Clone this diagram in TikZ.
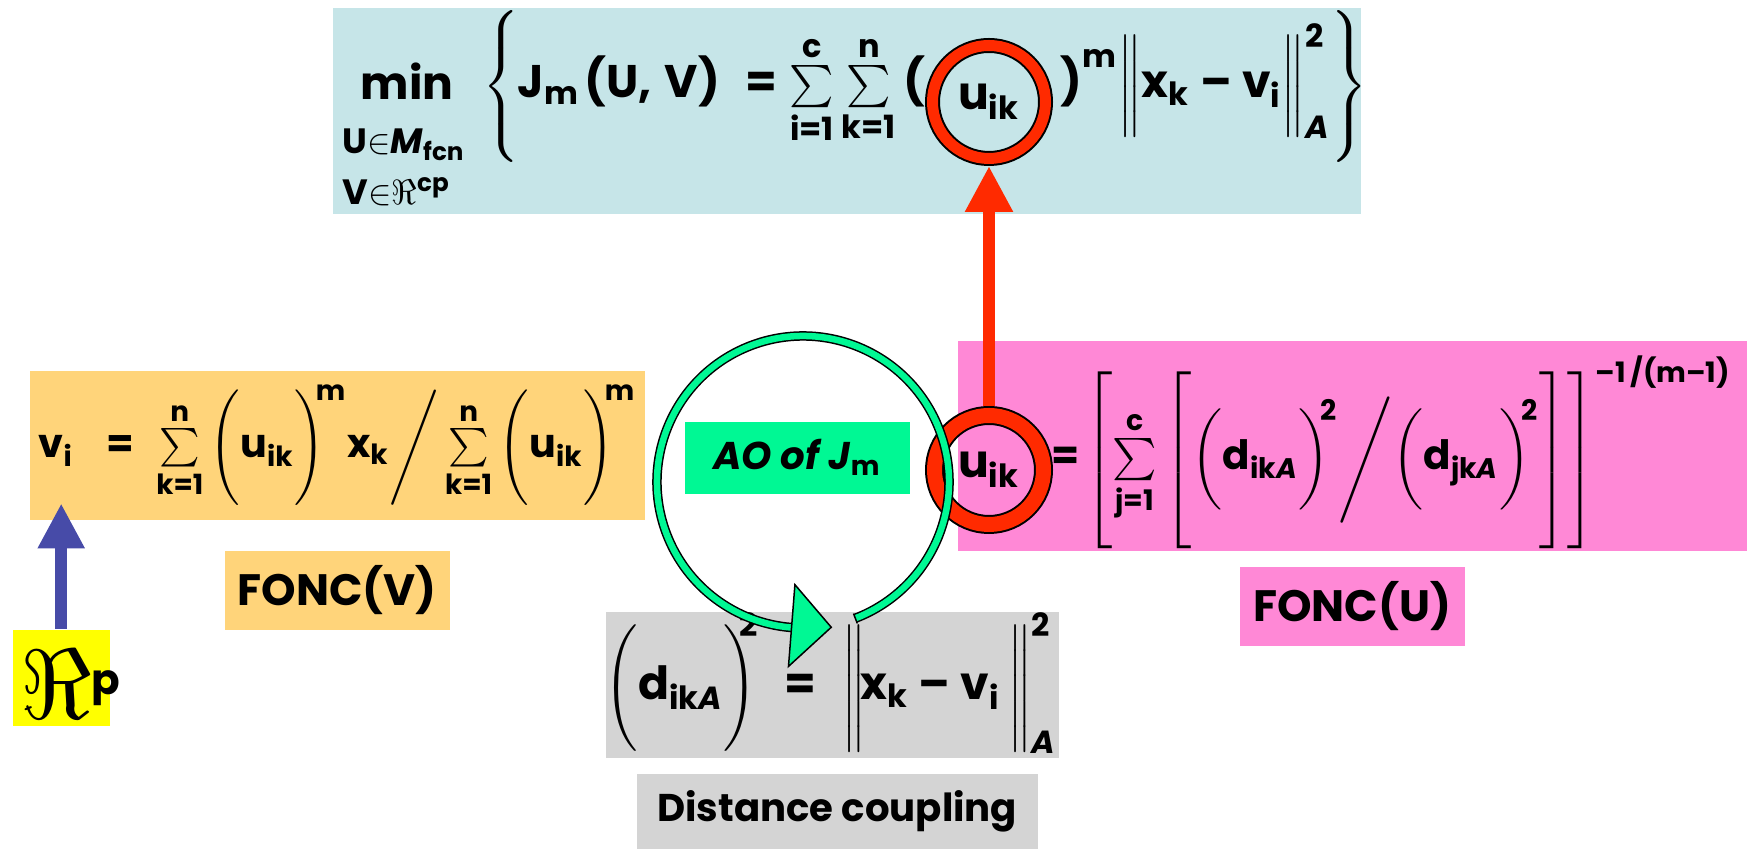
\RequirePackage{fix-cm}
\documentclass[tikz,border=0pt]{standalone}
\usepackage{amsmath}
\usepackage{fontspec}
\setmainfont{Poppins}
\definecolor{fcmBlue}{HTML}{C6E5E8}
\definecolor{fcmOrange}{HTML}{FFD47A}
\definecolor{fcmPink}{HTML}{FF88D6}
\definecolor{fcmGray}{HTML}{D4D4D4}
\definecolor{fcmYellow}{HTML}{FFFF00}
\definecolor{fcmGreen}{HTML}{00F894}
\definecolor{fcmRed}{HTML}{FF2A00}
\definecolor{fcmNavy}{HTML}{474BA8}
\usetikzlibrary{arrows.meta, positioning, calc}
\newcommand{\tb}[1]{\textbf{#1}}
\newcommand{\ti}[1]{\textbf{\itshape #1}}
\newcommand{\eqs}{\mathrel{\tb{=}}}
\newcommand{\mn}{\mathbin{\tb{\textendash}}}
\newcommand{\rpar}{{\bigg)\mkern-4mu}}
\newcommand{\fs}[1]{\fontsize{#1}{#1}\selectfont}
\newcommand{\tall}[2]{\vrule height #1 depth #2 width 0pt}
\delimiterfactor=1000
\delimitershortfall=0pt
\nulldelimiterspace=0pt

\begin{document}
\begin{tikzpicture}[
    x=0.1mm, y=-0.1mm,
    panel/.style={fill=#1, inner sep=0pt, anchor=north west},
    eq/.style={inner sep=0pt, font=\fs{#1}\bfseries},
    eq/.default=13,
    tag/.style={font=\fs{#1}\bfseries},
    ring/.style={circle, draw=black, double=fcmRed, line width=0.2mm, inner sep=0pt},
    redArr/.style={-{Triangle[length=4.6mm, width=4.5mm]}, fcmRed, line width=1.2mm},
    navyArr/.style={-{Triangle[length=4.5mm, width=4.4mm]}, fcmNavy, line width=1.2mm},
    loopLine/.style={draw=black, double=fcmGreen, line width=0.15mm, double distance=0.65mm},
  ]
  \useasboundingbox (0,0) rectangle (1747,849);

  % coloured panels
  \node[panel=fcmBlue, minimum width=102.8mm, minimum height=20.6mm] (topBox) at (332,7) {};
  \node[panel=fcmOrange, minimum width=61.5mm, minimum height=14.9mm] (vBox) at (29,370) {};
  \node[panel=fcmPink, minimum width=79mm, minimum height=21mm] (uBox) at (957,340) {};
  \node[panel=fcmGray, minimum width=45.3mm, minimum height=14.6mm] (dBox) at (605,611) {};
  \node[panel=fcmYellow, minimum width=9.7mm, minimum height=9.6mm] (rBox) at (12,629) {};

  % labels
  \node[panel=fcmOrange, minimum width=22.5mm, minimum height=7.9mm, tag=12.5] (foncV) at (224,550) {FONC(V)};
  \node[panel=fcmPink, minimum width=22.5mm, minimum height=7.9mm, tag=12.5] (foncU) at (1239,566) {FONC(U)};
  \node[panel=fcmGray, minimum width=40.1mm, minimum height=7.6mm, tag=11] (distLbl) at (636,773) {Distance coupling};
  \node[panel=fcmGreen, minimum width=22.5mm, minimum height=7.2mm, tag=11] (aoBox) at (684,421) {{\itshape AO of J}$_{\tb{m}}$};
  \node[eq=28, anchor=base west] (rLbl) at (20,719) {$\Re$\raisebox{2.4mm}{\fs{12}p}};

  % objective
  \node[eq=13, anchor=base] (minOp) at (407,100) {min};
  \node[inner sep=0pt, anchor=north west, align=left, font=\fontsize{10}{14.5}\selectfont\bfseries] (minSub) at (342,128)
    {$\tb{U}\mathord{\in}\ti{M}_{\tb{fcn}}$\\$\tb{V}\mathord{\in}\Re^{\tb{cp}}$};
  \node[ring, minimum size=11.3mm, double distance=1.1mm, outer sep=0.75mm, font=\fs{13}] (uTop) at (989,102) {$\tb{u}_{\tb{ik}}$};
  \node[eq=13, anchor=base east] (jLeft) at (926,98)
    {$\left\{\tall{22pt}{16pt}\right.\mkern-4mu\tb{J}_{\tb{m}}\mkern2mu\tb{(U,\;V)}\;\eqs\sum\limits_{\tb{i=1}}^{\tb{c}}\sum\limits_{\tb{k=1}}^{\tb{n}}\tb{(}$};
  \node[eq=13, anchor=base west] (jRight) at (1060,98)
    {$\tb{)}^{\tb{m}}\Big\|\tb{x}_{\tb{k}}\mn\tb{v}_{\tb{i}}\Big\|^{\tb{2}}_{\ti{A}}\mkern-3mu\left.\tall{22pt}{16pt}\right\}$};

  % FONC(V)
  \node[eq=11.3, anchor=base west] (vForm) at (38,458)
    {$\tb{v}_{\tb{i}}\;\;\eqs\;\sum\limits_{\tb{k=1}}^{\tb{n}}\bigg(\tb{u}_{\tb{ik}}\rpar^{\tb{m}}\tb{x}_{\tb{k}}\Bigg/\sum\limits_{\tb{k=1}}^{\tb{n}}\bigg(\tb{u}_{\tb{ik}}\rpar^{\tb{m}}$};

  % FONC(U)
  \node[ring, minimum size=10.9mm, double distance=1.5mm, outer sep=0.95mm, font=\fs{13}] (uLow) at (989,470) {$\tb{u}_{\tb{ik}}$};
  \node[eq=11.5, anchor=base west] (uForm) at (1051,470)
    {$\eqs\mkern-3mu\left[\tall{27pt}{20pt}\sum\limits_{\tb{j=1}}^{\tb{c}}\left[\tall{24pt}{19pt}\bigg(\tb{d}_{\tb{ik}\ti{A}}\rpar^{\tb{2}}\Bigg/\bigg(\tb{d}_{\tb{jk}\ti{A}}\rpar^{\tb{2}}\right]\right]^{\text{\fs{8}\bfseries\textendash1\,/(m\textendash1)}}$};

  % distance
  \node[eq=13, anchor=base] (dForm) at (831,700)
    {$\bigg(\tb{d}_{\tb{ik}\ti{A}}{\bigg)\mkern-7mu}^{\tb{2}}\;\eqs\;\bigg\|\mkern-2mu\tb{x}_{\tb{k}}\mn\tb{v}_{\tb{i}}\,\bigg\|^{\tb{2}}_{\ti{A}}$};

  % arrows
  \draw[redArr] (uLow) -- (uTop);
  \draw[navyArr, shorten >=-1.7mm] (rBox.north) -- (rBox.north |- vBox.south);

  % alternating optimisation loop
  \coordinate (aoC) at (803,482);
  \draw[loopLine] ($(aoC)+(69:146)$) arc[start angle=69, end angle=-265.5, radius=146];
  \draw[black, line width=0.15mm] ($(aoC)+(69:141)$) -- ($(aoC)+(69:151.5)$);
  \filldraw[fill=fcmGreen, draw=black, line width=0.15mm] ($(aoC)+(94.5:103)$) -- ($(aoC)+(79:148)$) -- ($(aoC)+(94.5:185)$) -- cycle;
\end{tikzpicture}
\end{document}
